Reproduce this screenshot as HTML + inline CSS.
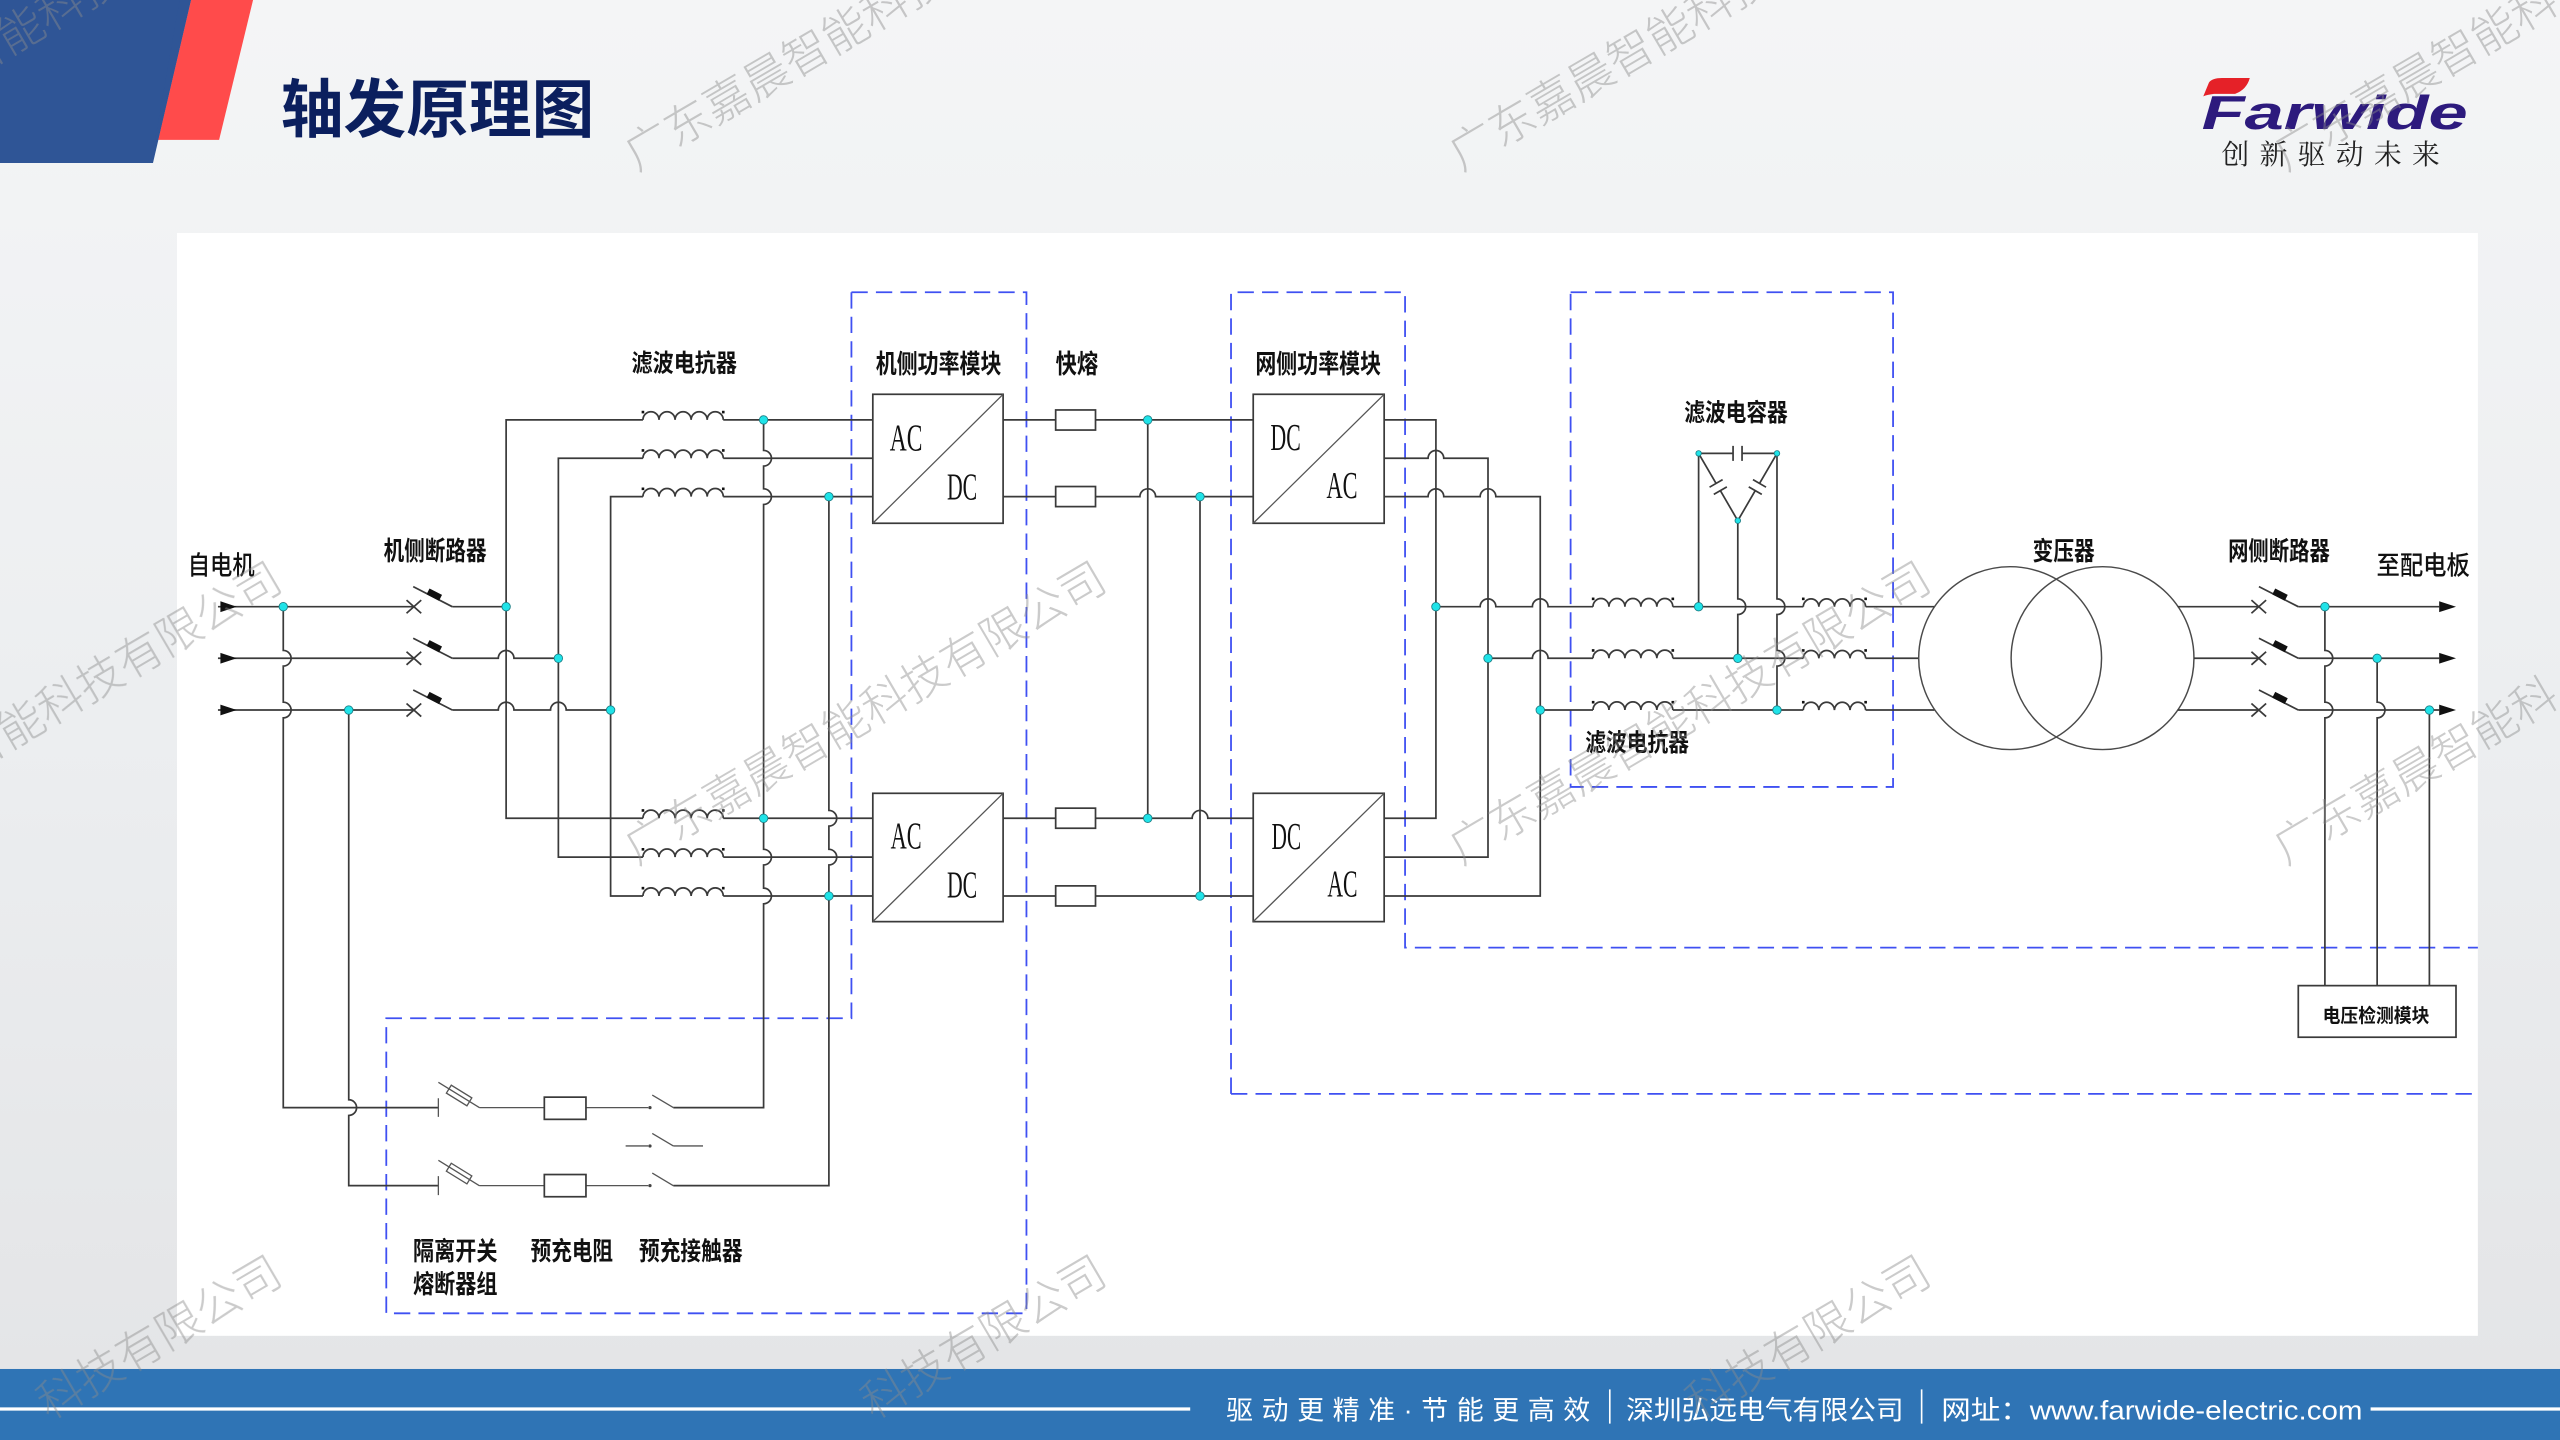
<!DOCTYPE html>
<html><head><meta charset="utf-8"><style>
html,body{margin:0;padding:0;overflow:hidden;}
body{width:2560px;height:1440px;overflow:hidden;}
svg{display:block;overflow:hidden;}
.w{fill:none;stroke:#3a3a3a;stroke-width:1.05;}
.g{fill:none;stroke:#555;stroke-width:0.8;}
.d{fill:none;stroke:#3f50f2;stroke-width:1.1;stroke-dasharray:10 5;}
.lb{font-family:"Liberation Sans","Noto Sans CJK SC",sans-serif;font-weight:700;fill:#111;}
.lr{font-family:"Liberation Sans","Noto Sans CJK SC",sans-serif;font-weight:500;fill:#111;}
.ac{font-family:"Liberation Serif",serif;fill:#111;font-size:23px;}
.dot{fill:#1fe3e8;stroke:#1b7d84;stroke-width:0.5;}
.wm{font-family:"Liberation Sans","Noto Sans CJK SC",sans-serif;font-weight:300;font-size:28px;fill:#8c8c8c;opacity:0.45;}
</style></head><body>
<svg width="2560" height="1440" viewBox="0 0 1568 882" xmlns="http://www.w3.org/2000/svg">
<defs>
<linearGradient id="bg" x1="0" y1="0" x2="0" y2="1">
<stop offset="0" stop-color="#f4f5f6"/><stop offset="0.5" stop-color="#eceef0"/><stop offset="1" stop-color="#e3e4e6"/>
</linearGradient>
<clipPath id="frame"><rect x="0" y="0" width="1568" height="882"/></clipPath>
</defs>
<rect x="0" y="0" width="1568" height="882" fill="url(#bg)"/>

<!-- header -->
<polygon points="0,0 117,0 93.7,99.8 0,99.8" fill="#2f5596"/>
<polygon points="117,0 155,0 134.2,85.7 96.9,85.7" fill="#ff4b4b"/>
<polygon points="110,0 117,0 96.9,85.7 95,85.7" fill="#2f5596"/>
<text x="172" y="81" font-family="Liberation Sans,'Noto Sans CJK SC',sans-serif" font-weight="700" font-size="39" fill="#0b1f5e" textLength="192" lengthAdjust="spacingAndGlyphs">轴发原理图</text>

<!-- logo -->
<text x="1348.5" y="79" font-family="Liberation Sans,sans-serif" font-weight="700" font-style="italic" font-size="29" fill="#2d1a7d" textLength="163" lengthAdjust="spacingAndGlyphs">Farwide</text>
<path d="M1349.5,59 L1353,50.5 Q1355,47.8 1361,47.8 L1378,47.8 Q1376,55 1369,57.5 L1356,57.5 Q1352,58 1349.5,59 Z" fill="#e52128"/>
<text x="1360.7" y="100.5" font-family="'Noto Serif CJK SC',serif" font-size="17" fill="#222" textLength="133.7" lengthAdjust="spacing">创新驱动未来</text>

<!-- panel -->
<rect x="108.4" y="142.7" width="1409.3" height="675.5" fill="#ffffff"/>

<!-- dashed boxes -->
<path class="d" d="M521.5,179H628.7V804.4H236.6V623.7H521.5Z"/>
<path class="d" d="M754,670V179H860.6V580.4H1517.7M754,670H1517.7"/>
<rect class="d" x="962" y="179" width="197.5" height="303"/>

<!-- left input -->
<g class="w">
<path d="M133.5,371.6H253.1M133.5,403.2H253.1M133.5,434.9H253.1"/>
<path d="M249,367.6L258,375.6M249,375.6L258,367.6M249,399.2L258,407.2M249,407.2L258,399.2M249,430.9L258,438.9M249,438.9L258,430.9"/>
<path d="M253.1,359.3L277,371.6M253.1,390.9L277,403.2M253.1,422.6L277,434.9"/>
<path d="M277,371.6H310"/>
<path d="M277,403.2H305.2A4.8,4.8 0 0 1 314.8,403.2H342"/>
<path d="M277,434.9H305.2A4.8,4.8 0 0 1 314.8,434.9H337.2A4.8,4.8 0 0 1 346.8,434.9H374"/>
<path d="M173.5,371.6V398.4A4.8,4.8 0 0 1 173.5,408V430.1A4.8,4.8 0 0 1 173.5,439.7V678.4H268.5"/>
<path d="M213.6,434.9V673.6A4.8,4.8 0 0 1 213.6,683.2V726.2H268.5"/>
<path d="M393.8,257.2H310V501.2H393.8M393.8,280.7H342V525H393.8M393.8,304.2H374V548.8H393.8"/>
<path d="M393.8,257.2a4.92,5 0 0 1 9.84,0a4.92,5 0 0 1 9.84,0a4.92,5 0 0 1 9.84,0a4.92,5 0 0 1 9.84,0a4.92,5 0 0 1 9.84,0
M393.8,280.7a4.92,5 0 0 1 9.84,0a4.92,5 0 0 1 9.84,0a4.92,5 0 0 1 9.84,0a4.92,5 0 0 1 9.84,0a4.92,5 0 0 1 9.84,0
M393.8,304.2a4.92,5 0 0 1 9.84,0a4.92,5 0 0 1 9.84,0a4.92,5 0 0 1 9.84,0a4.92,5 0 0 1 9.84,0a4.92,5 0 0 1 9.84,0
M393.8,501.2a4.92,5 0 0 1 9.84,0a4.92,5 0 0 1 9.84,0a4.92,5 0 0 1 9.84,0a4.92,5 0 0 1 9.84,0a4.92,5 0 0 1 9.84,0
M393.8,525a4.92,5 0 0 1 9.84,0a4.92,5 0 0 1 9.84,0a4.92,5 0 0 1 9.84,0a4.92,5 0 0 1 9.84,0a4.92,5 0 0 1 9.84,0
M393.8,548.8a4.92,5 0 0 1 9.84,0a4.92,5 0 0 1 9.84,0a4.92,5 0 0 1 9.84,0a4.92,5 0 0 1 9.84,0a4.92,5 0 0 1 9.84,0"/>
<path d="M443,257.2H534.6M443,280.7H534.6M443,304.2H534.6M443,501.2H534.6M443,525H534.6M443,548.8H534.6"/>
<path d="M467.7,257.2V275.9A4.8,4.8 0 0 1 467.7,285.5V299.4A4.8,4.8 0 0 1 467.7,309V520.2A4.8,4.8 0 0 1 467.7,529.8V544A4.8,4.8 0 0 1 467.7,553.6V678.4H412.4"/>
<path d="M507.7,304.2V496.4A4.8,4.8 0 0 1 507.7,506V520.2A4.8,4.8 0 0 1 507.7,529.8V726.2H412.4"/>
</g>
<g fill="#111">
<polygon points="135,368.3 145,371.6 135,374.9"/>
<polygon points="135,399.9 145,403.2 135,406.5"/>
<polygon points="135,431.6 145,434.9 135,438.2"/>
<rect x="-4.3" y="-2" width="8.6" height="4" transform="translate(266,364.2) rotate(27.2)"/>
<rect x="-4.3" y="-2" width="8.6" height="4" transform="translate(266,395.8) rotate(27.2)"/>
<rect x="-4.3" y="-2" width="8.6" height="4" transform="translate(266,427.5) rotate(27.2)"/>
<rect x="393" y="251.6" width="1.6" height="1.6"/><rect x="442.2" y="251.6" width="1.6" height="1.6"/>
<rect x="393" y="275.1" width="1.6" height="1.6"/><rect x="442.2" y="275.1" width="1.6" height="1.6"/>
<rect x="393" y="298.6" width="1.6" height="1.6"/><rect x="442.2" y="298.6" width="1.6" height="1.6"/>
<rect x="393" y="495.6" width="1.6" height="1.6"/><rect x="442.2" y="495.6" width="1.6" height="1.6"/>
<rect x="393" y="519.4" width="1.6" height="1.6"/><rect x="442.2" y="519.4" width="1.6" height="1.6"/>
<rect x="393" y="543.2" width="1.6" height="1.6"/><rect x="442.2" y="543.2" width="1.6" height="1.6"/>
</g>

<!-- precharge -->
<g class="g">
<path d="M268.5,672.7V684.1M268.5,662.9L293.6,678.4M293.6,678.4H333.4M358.9,678.4H397M399.5,670.7L412.4,678.4"/>
<path d="M383.2,701.9H397M399.5,694.2L412.4,701.9M412.4,701.9H430.6"/>
<path d="M268.5,720.4V732M268.5,710.7L293.6,726.2M293.6,726.2H333.4M358.9,726.2H397M399.5,718.5L412.4,726.2"/>
<rect x="-7.4" y="-2.85" width="14.8" height="5.7" transform="translate(281.2,671) rotate(31.7)"/>
<rect x="-7.4" y="-2.85" width="14.8" height="5.7" transform="translate(281.2,718.8) rotate(31.7)"/>
</g>
<g class="w">
<rect x="333.4" y="672" width="25.5" height="13.6" fill="#fff"/>
<rect x="333.4" y="719.4" width="25.5" height="13.6" fill="#fff"/>
</g>
<g fill="#444"><circle cx="398.1" cy="678.4" r="1"/><circle cx="398.1" cy="701.9" r="1"/><circle cx="398.1" cy="726.2" r="1"/></g>

<!-- modules -->
<g class="w">
<rect x="534.6" y="241.5" width="79.8" height="79" fill="#fff"/>
<rect x="534.6" y="485.9" width="79.8" height="78.6" fill="#fff"/>
<rect x="767.6" y="241.5" width="80.2" height="79" fill="#fff"/>
<rect x="767.6" y="485.9" width="80.2" height="78.6" fill="#fff"/>
</g>
<g class="g">
<path d="M534.6,320.5L614.4,241.5M534.6,564.5L614.4,485.9M767.6,320.5L847.8,241.5M767.6,564.5L847.8,485.9"/>
</g>
<text class="ac" x="545" y="276" textLength="20" lengthAdjust="spacingAndGlyphs">AC</text>
<text class="ac" x="580" y="306" textLength="18.5" lengthAdjust="spacingAndGlyphs">DC</text>
<text class="ac" x="545.5" y="519.6" textLength="19" lengthAdjust="spacingAndGlyphs">AC</text>
<text class="ac" x="580" y="549.6" textLength="18.5" lengthAdjust="spacingAndGlyphs">DC</text>
<text class="ac" x="778.2" y="275.6" textLength="18.5" lengthAdjust="spacingAndGlyphs">DC</text>
<text class="ac" x="812.5" y="305" textLength="19" lengthAdjust="spacingAndGlyphs">AC</text>
<text class="ac" x="778.9" y="520" textLength="18" lengthAdjust="spacingAndGlyphs">DC</text>
<text class="ac" x="813" y="549.2" textLength="18.5" lengthAdjust="spacingAndGlyphs">AC</text>

<!-- dc link -->
<g class="w">
<path d="M614.4,257.2H646.6M671,257.2H767.6"/>
<path d="M614.4,304.2H646.6M671,304.2H698.2A4.8,4.8 0 0 1 707.8,304.2H767.6"/>
<path d="M614.4,501.2H646.6M671,501.2H730.2A4.8,4.8 0 0 1 739.8,501.2H767.6"/>
<path d="M614.4,548.8H646.6M671,548.8H767.6"/>
<path d="M703,257.2V501.2M735,304.2V548.8"/>
<rect x="646.6" y="251.1" width="24.4" height="12.3"/>
<rect x="646.6" y="298" width="24.4" height="12.3"/>
<rect x="646.6" y="495" width="24.4" height="12.3"/>
<rect x="646.6" y="542.6" width="24.4" height="12.3"/>
</g>

<!-- grid side -->
<g class="w">
<path d="M847.8,257.2H879.5V501.2H847.8"/>
<path d="M847.8,280.7H874.7A4.8,4.8 0 0 1 884.3,280.7H911.4V525H847.8"/>
<path d="M847.8,304.2H874.7A4.8,4.8 0 0 1 884.3,304.2H906.6A4.8,4.8 0 0 1 916.2,304.2H943.4V548.8H847.8"/>
<path d="M879.5,371.6H906.6A4.8,4.8 0 0 1 916.2,371.6H938.6A4.8,4.8 0 0 1 948.2,371.6H975.7"/>
<path d="M911.4,403.2H938.6A4.8,4.8 0 0 1 948.2,403.2H975.7"/>
<path d="M943.4,434.9H975.7"/>
<path d="M975.7,371.6a4.89,5 0 0 1 9.78,0a4.89,5 0 0 1 9.78,0a4.89,5 0 0 1 9.78,0a4.89,5 0 0 1 9.78,0a4.89,5 0 0 1 9.78,0
M975.7,403.2a4.89,5 0 0 1 9.78,0a4.89,5 0 0 1 9.78,0a4.89,5 0 0 1 9.78,0a4.89,5 0 0 1 9.78,0a4.89,5 0 0 1 9.78,0
M975.7,434.9a4.89,5 0 0 1 9.78,0a4.89,5 0 0 1 9.78,0a4.89,5 0 0 1 9.78,0a4.89,5 0 0 1 9.78,0a4.89,5 0 0 1 9.78,0"/>
<path d="M1024.6,371.6H1104.5M1024.6,403.2H1104.5M1024.6,434.9H1104.5"/>
<path d="M1104.5,371.6a4.78,5 0 0 1 9.55,0a4.78,5 0 0 1 9.55,0a4.78,5 0 0 1 9.55,0a4.78,5 0 0 1 9.55,0
M1104.5,403.2a4.78,5 0 0 1 9.55,0a4.78,5 0 0 1 9.55,0a4.78,5 0 0 1 9.55,0a4.78,5 0 0 1 9.55,0
M1104.5,434.9a4.78,5 0 0 1 9.55,0a4.78,5 0 0 1 9.55,0a4.78,5 0 0 1 9.55,0a4.78,5 0 0 1 9.55,0"/>
<path d="M1142.7,371.6H1184.8M1142.7,403.2H1175M1142.7,434.9H1184.8"/>
<path d="M1040.4,277.7V371.6"/>
<path d="M1064.4,318.9V366.8A4.8,4.8 0 0 1 1064.4,376.4V403.2"/>
<path d="M1088.4,277.7V366.8A4.8,4.8 0 0 1 1088.4,376.4V398.4A4.8,4.8 0 0 1 1088.4,408V434.9"/>
<path d="M1040.4,277.7H1061.5M1067,277.7H1088.4M1061.5,273.1V282.3M1067,273.1V282.3"/>
<path d="M1040.4,277.7L1051.1,296.1M1055.1,293.8L1047.1,298.4M1057.7,298.2L1049.7,302.8M1053.7,300.5L1064.4,318.9"/>
<path d="M1088.4,277.7L1077.7,296.1M1081.7,298.4L1073.7,293.8M1079.1,302.8L1071.1,298.2M1075.1,300.5L1064.4,318.9"/>
</g>
<g fill="#111">
<rect x="975" y="366" width="1.6" height="1.6"/><rect x="1023.8" y="366" width="1.6" height="1.6"/>
<rect x="975" y="397.6" width="1.6" height="1.6"/><rect x="1023.8" y="397.6" width="1.6" height="1.6"/>
<rect x="975" y="429.3" width="1.6" height="1.6"/><rect x="1023.8" y="429.3" width="1.6" height="1.6"/>
<rect x="1103.7" y="366" width="1.6" height="1.6"/><rect x="1141.9" y="366" width="1.6" height="1.6"/>
<rect x="1103.7" y="397.6" width="1.6" height="1.6"/><rect x="1141.9" y="397.6" width="1.6" height="1.6"/>
<rect x="1103.7" y="429.3" width="1.6" height="1.6"/><rect x="1141.9" y="429.3" width="1.6" height="1.6"/>
</g>

<!-- transformer -->
<g class="g" style="stroke:#4a4a4a;stroke-width:0.9">
<circle cx="1231.2" cy="403.1" r="56"/>
<circle cx="1287.8" cy="403.1" r="56"/>
</g>

<!-- grid breakers & output -->
<g class="w">
<path d="M1333.8,371.6H1383.6M1343.8,403.2H1383.6M1333.8,434.9H1383.6"/>
<path d="M1379,367.6L1388,375.6M1379,375.6L1388,367.6M1379,399.2L1388,407.2M1379,407.2L1388,399.2M1379,430.9L1388,438.9M1379,438.9L1388,430.9"/>
<path d="M1383.6,359.3L1407.7,371.6M1383.6,390.9L1407.7,403.2M1383.6,422.6L1407.7,434.9"/>
<path d="M1407.7,371.6H1494M1407.7,403.2H1494M1407.7,434.9H1494"/>
<path d="M1424,371.6V398.4A4.8,4.8 0 0 1 1424,408V430.1A4.8,4.8 0 0 1 1424,439.7V603.7"/>
<path d="M1456,403.2V430.1A4.8,4.8 0 0 1 1456,439.7V603.7"/>
<path d="M1488,434.9V603.7"/>
<rect x="1407.7" y="603.7" width="96.6" height="31.6" fill="#fff"/>
</g>
<g fill="#111">
<polygon points="1494,368.3 1504.3,371.6 1494,374.9"/>
<polygon points="1494,399.9 1504.3,403.2 1494,406.5"/>
<polygon points="1494,431.6 1504.3,434.9 1494,438.2"/>
<rect x="-4.3" y="-2" width="8.6" height="4" transform="translate(1396.5,364.2) rotate(27)"/>
<rect x="-4.3" y="-2" width="8.6" height="4" transform="translate(1396.5,395.8) rotate(27)"/>
<rect x="-4.3" y="-2" width="8.6" height="4" transform="translate(1396.5,427.5) rotate(27)"/>
</g>

<!-- dots -->
<g class="dot">
<circle cx="173.5" cy="371.6" r="2.6"/><circle cx="213.6" cy="434.9" r="2.6"/>
<circle cx="310" cy="371.6" r="2.6"/><circle cx="342" cy="403.2" r="2.6"/><circle cx="374" cy="434.9" r="2.6"/>
<circle cx="467.7" cy="257.2" r="2.6"/><circle cx="507.7" cy="304.2" r="2.6"/>
<circle cx="467.7" cy="501.2" r="2.6"/><circle cx="507.7" cy="548.8" r="2.6"/>
<circle cx="703" cy="257.2" r="2.6"/><circle cx="735" cy="304.2" r="2.6"/>
<circle cx="703" cy="501.2" r="2.6"/><circle cx="735" cy="548.8" r="2.6"/>
<circle cx="879.5" cy="371.6" r="2.6"/><circle cx="911.4" cy="403.2" r="2.6"/><circle cx="943.4" cy="434.9" r="2.6"/>
<circle cx="1040.4" cy="371.6" r="2.6"/><circle cx="1064.4" cy="403.2" r="2.6"/><circle cx="1088.4" cy="434.9" r="2.6"/>
<circle cx="1424" cy="371.6" r="2.6"/><circle cx="1456" cy="403.2" r="2.6"/><circle cx="1488" cy="434.9" r="2.6"/>
<circle cx="1040.4" cy="277.7" r="1.7"/><circle cx="1088.4" cy="277.7" r="1.7"/><circle cx="1064.4" cy="318.9" r="1.7"/>
</g>

<!-- labels -->
<text class="lr" x="115" y="352" font-size="16" textLength="41" lengthAdjust="spacingAndGlyphs">自电机</text>
<text class="lb" x="235" y="343" font-size="16" textLength="63" lengthAdjust="spacingAndGlyphs">机侧断路器</text>
<text class="lb" x="386.8" y="227.5" font-size="15" textLength="64.6" lengthAdjust="spacingAndGlyphs">滤波电抗器</text>
<text class="lb" x="536.4" y="228.6" font-size="16" textLength="77" lengthAdjust="spacingAndGlyphs">机侧功率模块</text>
<text class="lb" x="646.6" y="228.6" font-size="16" textLength="26" lengthAdjust="spacingAndGlyphs">快熔</text>
<text class="lb" x="768.9" y="228.6" font-size="16" textLength="77" lengthAdjust="spacingAndGlyphs">网侧功率模块</text>
<text class="lb" x="1031.6" y="258" font-size="15" textLength="63.4" lengthAdjust="spacingAndGlyphs">滤波电容器</text>
<text class="lb" x="971" y="460" font-size="15" textLength="63.5" lengthAdjust="spacingAndGlyphs">滤波电抗器</text>
<text class="lb" x="1245" y="343" font-size="15.5" textLength="38" lengthAdjust="spacingAndGlyphs">变压器</text>
<text class="lb" x="1364.7" y="343" font-size="15.5" textLength="62.3" lengthAdjust="spacingAndGlyphs">网侧断路器</text>
<text class="lr" x="1455.6" y="352" font-size="16" textLength="57.2" lengthAdjust="spacingAndGlyphs">至配电板</text>
<text class="lb" x="1422.6" y="626" font-size="11.5" textLength="65.4" lengthAdjust="spacingAndGlyphs">电压检测模块</text>
<text class="lb" x="253" y="771.7" font-size="15.5" textLength="51.7" lengthAdjust="spacingAndGlyphs">隔离开关</text>
<text class="lb" x="253" y="792" font-size="15.5" textLength="51.7" lengthAdjust="spacingAndGlyphs">熔断器组</text>
<text class="lb" x="325" y="771.7" font-size="15.5" textLength="50.5" lengthAdjust="spacingAndGlyphs">预充电阻</text>
<text class="lb" x="391.4" y="771.7" font-size="15.5" textLength="63.4" lengthAdjust="spacingAndGlyphs">预充接触器</text>

<!-- footer -->
<rect x="0" y="838.5" width="1568" height="43.5" fill="#2f74b5"/>
<path d="M0,863H729M1452,863H1568" stroke="#fff" stroke-width="2"/>
<path d="M986,851V872M1177,851V872" stroke="#fff" stroke-width="1"/>
<g font-family="Liberation Sans,'Noto Sans CJK SC',sans-serif" font-size="16.5" fill="#fff">
<text x="751" y="869.5" textLength="223" lengthAdjust="spacing">驱动更精准·节能更高效</text>
<text x="996" y="869.5" textLength="170" lengthAdjust="spacingAndGlyphs">深圳弘远电气有限公司</text>
<text x="1189" y="869.5" textLength="258" lengthAdjust="spacingAndGlyphs">网址：www.farwide-electric.com</text>
</g>

<!-- watermarks -->
<g class="wm" clip-path="url(#frame)">
<text x="-18.4" y="48.3" transform="rotate(-30.4 -18.4 48.3)">智能科技有限公司</text>
<text x="390" y="105" transform="rotate(-30.4 390 105)">广东嘉晨智能科技</text>
<text x="895" y="105" transform="rotate(-30.4 895 105)">广东嘉晨智能科技</text>
<text x="1400" y="105" transform="rotate(-30.4 1400 105)">广东嘉晨智能科</text>
<text x="-18.4" y="473.3" transform="rotate(-30.4 -18.4 473.3)">智能科技有限公司</text>
<text x="390" y="530" transform="rotate(-30.4 390 530)">广东嘉晨智能科技有限公司</text>
<text x="895" y="530" transform="rotate(-30.4 895 530)">广东嘉晨智能科技有限公司</text>
<text x="1400" y="530" transform="rotate(-30.4 1400 530)">广东嘉晨智能科</text>
<text x="29.9" y="870" transform="rotate(-30.4 29.9 870)">科技有限公司</text>
<text x="534.9" y="870" transform="rotate(-30.4 534.9 870)">科技有限公司</text>
<text x="1039.9" y="870" transform="rotate(-30.4 1039.9 870)">科技有限公司</text>
</g>
</svg>
</body></html>
